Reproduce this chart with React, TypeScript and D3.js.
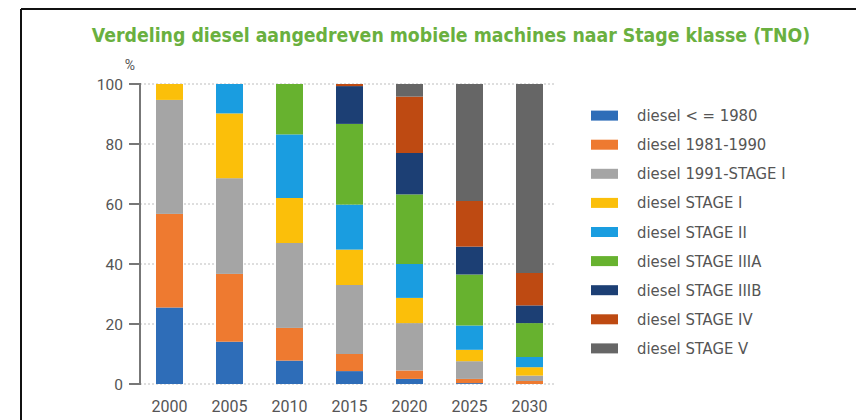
import React from "react";
import * as d3 from "d3";

const years = ["2000", "2005", "2010", "2015", "2020", "2025", "2030"];
const seriesNames = [
  "diesel < = 1980",
  "diesel 1981-1990",
  "diesel 1991-STAGE I",
  "diesel STAGE I",
  "diesel STAGE II",
  "diesel STAGE IIIA",
  "diesel STAGE IIIB",
  "diesel STAGE IV",
  "diesel STAGE V",
];
const s1980 = [25.5, 14.1, 7.8, 4.3, 1.7, 0.3, 0];
const s1981 = [31.2, 22.6, 10.9, 5.7, 2.8, 1.4, 1];
const s1991 = [38, 31.9, 28.3, 23, 15.8, 5.9, 1.8];
const stageI = [5.3, 21.6, 15, 11.8, 8.4, 3.8, 2.8];
const stageII = [0, 9.8, 21.2, 15, 11.3, 8.1, 3.4];
const stageIIIA = [0, 0, 16.8, 26.9, 23.2, 17, 11.3];
const stageIIIB = [0, 0, 0, 12.6, 13.8, 9.3, 5.9];
const stageIV = [0, 0, 0, 0.7, 18.8, 15.2, 10.8];
const stageV = [0, 0, 0, 0, 4.2, 39, 63];
const yTicks = [0, 20, 40, 60, 80, 100];
const colors = ["#2E6DB8", "#EE7A30", "#A5A5A5", "#FBBF0A", "#1A9DE0", "#67B22F", "#1C3F74", "#BE4A12", "#666666"];

const allSeries = [s1980, s1981, s1991, stageI, stageII, stageIIIA, stageIIIB, stageIV, stageV];

export default function App() {
  const rows = years.map((y, i) => {
    const r: any = { year: y };
    seriesNames.forEach((n, k) => (r[n] = allSeries[k][i]));
    return r;
  });
  const stacked = d3.stack().keys(seriesNames)(rows);
  const x = d3.scaleBand().domain(years).range([139.5, 559.5]).paddingInner(0.55).paddingOuter(0.275);
  const y = d3.scaleLinear().domain([0, 100]).range([384, 84]);
  const legendY = d3.scaleLinear().domain([0, 8]).range([115.6, 348.4]);

  return (
    <svg width={856} height={420} style={{ position: "absolute", left: 0, top: 0, background: "#fff" }}>
      <line x1={21} y1={9} x2={856} y2={9} stroke="#111" strokeWidth={2} />
      <line x1={21} y1={9} x2={21} y2={420} stroke="#111" strokeWidth={2} />
      <text x={451} y={42} textAnchor="middle" fontFamily="DejaVu Sans Condensed, DejaVu Sans" fontWeight="bold" fontSize={19.3} fill="#6AB03F">
        Verdeling diesel aangedreven mobiele machines naar Stage klasse (TNO)
      </text>
      <text x={130} y={70} textAnchor="middle" fontFamily="Roboto" fontSize={14} fill="#555">%</text>
      {yTicks.map((t) => (
        <g key={t}>
          <line x1={140} x2={556} y1={y(t)} y2={y(t)} stroke="#bdbdbd" strokeWidth={1} strokeDasharray="2,2" />
          <line x1={129} x2={140} y1={y(t)} y2={y(t)} stroke="#777" strokeWidth={2} />
          <text x={123} y={y(t) + 5.5} textAnchor="end" fontFamily="Roboto" fontSize={15.5} fill="#555">{t}</text>
        </g>
      ))}
      {stacked.map((s, k) => (
        <g key={k} fill={colors[k]}>
          {s.map((d, i) => (
            <rect key={i} x={x(years[i])} width={x.bandwidth()} y={y(d[1])} height={Math.max(0, y(d[0]) - y(d[1]))} />
          ))}
        </g>
      ))}
      <line x1={140} x2={140} y1={y(100) - 1} y2={y(0) + 1} stroke="#777" strokeWidth={2} />
      {years.map((yr) => (
        <text key={yr} x={(x(yr) as number) + x.bandwidth() / 2} y={412} textAnchor="middle" fontFamily="Roboto" fontSize={16} fill="#555">{yr}</text>
      ))}
      {seriesNames.map((n, k) => (
        <g key={n}>
          <rect x={591} y={legendY(k) - 5} width={27} height={10} fill={colors[k]} />
          <text x={637} y={legendY(k) + 5.5} fontFamily="DejaVu Sans Condensed, DejaVu Sans" fontSize={16.5} fill="#555">{n}</text>
        </g>
      ))}
    </svg>
  );
}
